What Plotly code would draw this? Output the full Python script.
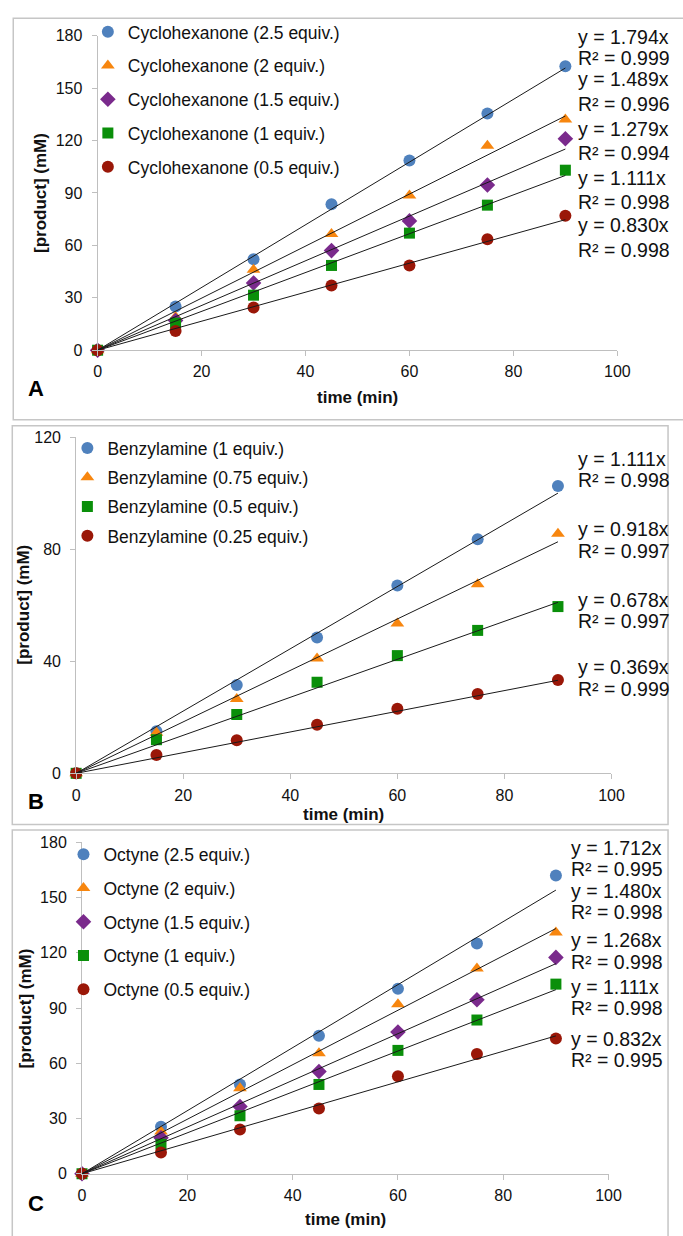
import plotly.graph_objects as go

W, H = 683, 1236
FONT = "Liberation Sans, Arial, sans-serif"

# ---------------- data ----------------
time_min = [0, 15, 30, 45, 60, 75, 90]

# Panel A: cyclohexanone
a_names = ["Cyclohexanone (2.5 equiv.)", "Cyclohexanone (2 equiv.)", "Cyclohexanone (1.5 equiv.)",
           "Cyclohexanone (1 equiv.)", "Cyclohexanone (0.5 equiv.)"]
a_cyc25 = [0, 25, 52, 83.5, 108.5, 135.5, 162.5]
a_cyc20 = [0, 19, 46, 66.5, 88.5, 117, 132]
a_cyc15 = [0, 17, 38.5, 57, 74, 94.5, 121]
a_cyc10 = [0, 15.5, 31.5, 48.5, 67, 83, 103]
a_cyc05 = [0, 11, 24.5, 37, 48.5, 63.5, 77]
a_slopes = [1.794, 1.489, 1.279, 1.111, 0.830]
a_r2 = [0.999, 0.996, 0.994, 0.998, 0.998]

# Panel B: benzylamine
b_names = ["Benzylamine (1 equiv.)", "Benzylamine (0.75 equiv.)", "Benzylamine (0.5 equiv.)",
           "Benzylamine (0.25 equiv.)"]
b_bn100 = [0, 15, 31.5, 48.5, 67, 83.5, 102.5]
b_bn075 = [0, 14.5, 26.5, 41, 53.5, 67.5, 85.5]
b_bn050 = [0, 12, 21, 32.5, 42, 51, 59.5]
b_bn025 = [0, 6.5, 11.8, 17.3, 23, 28.3, 33.3]
b_slopes = [1.111, 0.918, 0.678, 0.369]
b_r2 = [0.998, 0.997, 0.997, 0.999]

# Panel C: octyne
c_names = ["Octyne (2.5 equiv.)", "Octyne (2 equiv.)", "Octyne (1.5 equiv.)",
           "Octyne (1 equiv.)", "Octyne (0.5 equiv.)"]
c_oct25 = [0, 25.5, 48.5, 75, 100.5, 125, 162]
c_oct20 = [0, 23, 46.5, 65.5, 92, 111.5, 131]
c_oct15 = [0, 19.5, 36.5, 55.5, 77, 94.5, 117.5]
c_oct10 = [0, 16, 31.5, 48.5, 67, 83.5, 103]
c_oct05 = [0, 11.5, 24, 35.5, 53, 65, 73.5]
c_slopes = [1.712, 1.480, 1.268, 1.111, 0.832]
c_r2 = [0.995, 0.998, 0.998, 0.998, 0.995]

x_ticks = [0, 20, 40, 60, 80, 100]

BLUE, ORANGE, PURPLE, GREEN, RED = "#4F81BD", "#F7860F", "#7A2A8C", "#0A8F0A", "#9A1708"
five_sym = ["circle", "triangle-up", "diamond", "square", "circle"]
five_col = [BLUE, ORANGE, PURPLE, GREEN, RED]
four_sym = ["circle", "triangle-up", "square", "circle"]
four_col = [BLUE, ORANGE, GREEN, RED]


def px(x):
    return x / W


def py(y):
    return 1 - y / H


fig = go.Figure()

panels = [
    dict(xa="x", ya="y", leg="legend", names=a_names,
         series=[a_cyc25, a_cyc20, a_cyc15, a_cyc10, a_cyc05],
         sym=five_sym, col=five_col, slopes=a_slopes, r2=a_r2),
    dict(xa="x2", ya="y2", leg="legend2", names=b_names,
         series=[b_bn100, b_bn075, b_bn050, b_bn025],
         sym=four_sym, col=four_col, slopes=b_slopes, r2=b_r2),
    dict(xa="x3", ya="y3", leg="legend3", names=c_names,
         series=[c_oct25, c_oct20, c_oct15, c_oct10, c_oct05],
         sym=five_sym, col=five_col, slopes=c_slopes, r2=c_r2),
]

for p in panels:
    for i, (name, ys) in enumerate(zip(p["names"], p["series"])):
        size = 11 if p["sym"][i] in ("square",) else 12
        fig.add_trace(go.Scatter(
            x=time_min, y=ys, mode="markers", name=name,
            marker=dict(symbol=p["sym"][i], color=p["col"][i], size=size, line=dict(width=0)),
            xaxis=p["xa"], yaxis=p["ya"], legend=p["leg"], legendgroup=p["leg"] + str(i),
            cliponaxis=False, showlegend=True))
    for s in p["slopes"]:
        xs = [0, time_min[-1]]
        fig.add_trace(go.Scatter(
            x=xs, y=[s * v for v in xs], mode="lines",
            line=dict(color="#1a1a1a", width=1),
            xaxis=p["xa"], yaxis=p["ya"], showlegend=False, cliponaxis=False, hoverinfo="skip"))

axis_common = dict(showgrid=False, zeroline=False, showline=True, linecolor="#bfbfbf", linewidth=1,
                   ticks="outside", ticklen=5, tickcolor="#bfbfbf", tickwidth=1,
                   tickfont=dict(family=FONT, size=16, color="#111"))

# pixel geometry of the three plot areas: (x0, x100, ytop, ybottom)
geo = [(96, 629, 28, 347), (74, 623, 435, 776), (80, 620, 846, 1182)]
yr = [(0, 180, 30), (0, 120, 40), (0, 180, 30)]

layout = dict(width=W, height=H, margin=dict(l=0, r=0, t=0, b=0),
              paper_bgcolor="white", plot_bgcolor="rgba(0,0,0,0)", showlegend=True)
for k, ((x0, x1, yt, yb), (lo, hi, dt)) in enumerate(zip(geo, yr)):
    sfx = "" if k == 0 else str(k + 1)
    layout["xaxis" + sfx] = dict(axis_common, domain=[px(x0), px(x1)], range=[0, 100],
                                 tickvals=x_ticks, anchor="y" + sfx, ticklabelstandoff=2)
    layout["yaxis" + sfx] = dict(axis_common, domain=[py(yb), py(yt)], range=[lo, hi],
                                 dtick=dt, tick0=0, anchor="x" + sfx, ticklabelstandoff=6)

# legends
leg_geo = [(86, 6), (65, 428), (61, 840)]
for k, (lx, ly) in enumerate(leg_geo):
    key = "legend" if k == 0 else "legend" + str(k + 1)
    layout[key] = dict(x=px(lx), y=py(ly), xanchor="left", yanchor="top",
                       bgcolor="rgba(0,0,0,0)", borderwidth=0,
                       font=dict(family=FONT, size=17.5, color="#111"),
                       tracegroupgap=8 if k != 1 else 3.5, traceorder="grouped",
                       itemclick=False)
fig.update_layout(**layout)

# equation labels (pixel positions of text centres)
eq_pos = [
    (587, [29, 51, 72, 97, 123, 147, 172, 197, 220, 245]),
    (587, [457, 479, 528, 551, 600, 622, 668, 691]),
    (579, [852, 873, 895, 917, 945, 967, 993, 1014, 1045, 1067]),
]
ann = []
for p, (ex, eys) in zip(panels, eq_pos):
    for i, (s, r) in enumerate(zip(p["slopes"], p["r2"])):
        ann.append(dict(x=px(ex), y=py(eys[2 * i]), text=f"y = {s:.3f}x", showarrow=False,
                        xref="paper", yref="paper", xanchor="left", yanchor="middle",
                        font=dict(family=FONT, size=19.5, color="#111")))
        ann.append(dict(x=px(ex), y=py(eys[2 * i + 1]), text=f"R² = {r:.3f}", showarrow=False,
                        xref="paper", yref="paper", xanchor="left", yanchor="middle",
                        font=dict(family=FONT, size=19.5, color="#111")))

# panel letters
for letter, (lx, ly) in zip(["A", "B", "C"], [(33, 386), (33, 805), (33, 1212)]):
    ann.append(dict(x=px(lx), y=py(ly), text=f"<b>{letter}</b>", showarrow=False,
                    xref="paper", yref="paper", xanchor="center", yanchor="middle",
                    font=dict(family=FONT, size=22, color="#000")))

# axis titles
for (x0, x1, yt, yb), xt_y, yt_x in zip(geo, [395, 818, 1228], [38, 20, 22]):
    ann.append(dict(x=px((x0 + x1) / 2), y=py(xt_y), text="<b>time (min)</b>", showarrow=False,
                    xref="paper", yref="paper", xanchor="center", yanchor="middle",
                    font=dict(family=FONT, size=17, color="#111")))
    ann.append(dict(x=px(yt_x), y=py((yt + yb) / 2), text="<b>[product] (mM)</b>", showarrow=False,
                    xref="paper", yref="paper", xanchor="center", yanchor="middle", textangle=-90,
                    font=dict(family=FONT, size=17, color="#111")))
fig.update_layout(annotations=ann)

# panel frames
frames = [(9.5, 700, 10.5, 417.5), (8.5, 681, 423.5, 828), (8.5, 681, 833.5, 1250)]
for fx0, fx1, fy0, fy1 in frames:
    fig.add_shape(type="rect", xref="paper", yref="paper",
                  x0=px(fx0), x1=px(fx1), y0=py(fy1), y1=py(fy0),
                  line=dict(color="#c6c6c6", width=1.5), fillcolor="rgba(0,0,0,0)", layer="below")

fig.write_html("out.html")
